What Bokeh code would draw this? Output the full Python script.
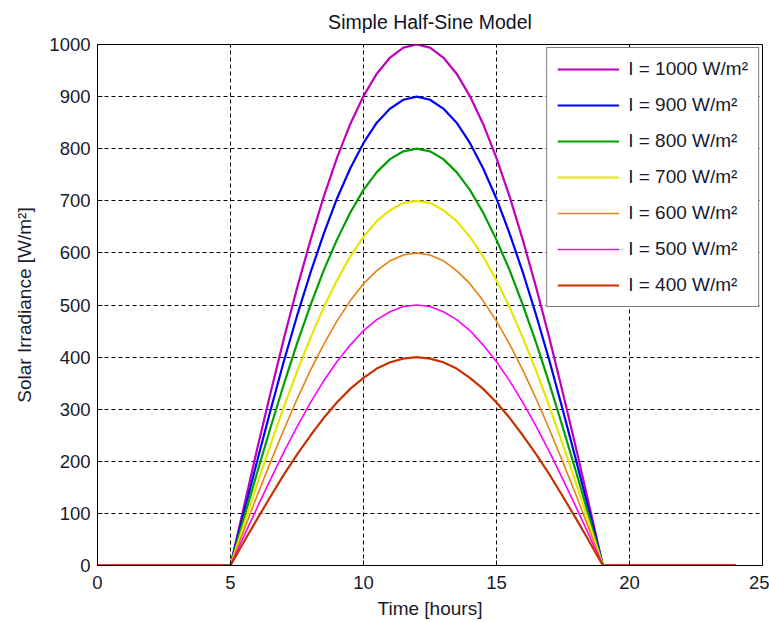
from bokeh.plotting import figure
from bokeh.models import Legend, LegendItem, Range1d, FixedTicker
from bokeh.embed import file_html
from bokeh.resources import INLINE

# time axis [hours]
time_h = [0, 5, 5.5, 6, 6.5, 7, 7.5, 8, 8.5, 9, 9.5, 10, 10.5, 11, 11.5, 12,
          12.5, 13, 13.5, 14, 14.5, 15, 15.5, 16, 16.5, 17, 17.5, 18, 18.5, 19, 24]

irr_1000 = [0, 0, 112, 223, 330, 434, 532, 623, 707, 782, 847, 901, 944, 975, 994, 1000,
            994, 975, 944, 901, 847, 782, 707, 623, 532, 434, 330, 223, 112, 0, 0]
irr_900 = [0, 0, 101, 200, 297, 391, 479, 561, 636, 704, 762, 811, 850, 877, 894, 900,
           894, 877, 850, 811, 762, 704, 636, 561, 479, 391, 297, 200, 101, 0, 0]
irr_800 = [0, 0, 90, 178, 264, 347, 426, 499, 566, 625, 677, 721, 755, 780, 795, 800,
           795, 780, 755, 721, 677, 625, 566, 499, 426, 347, 264, 178, 90, 0, 0]
irr_700 = [0, 0, 78, 156, 231, 304, 372, 436, 495, 547, 593, 631, 661, 682, 696, 700,
           696, 682, 661, 631, 593, 547, 495, 436, 372, 304, 231, 156, 78, 0, 0]
irr_600 = [0, 0, 67, 134, 198, 260, 319, 374, 424, 469, 508, 541, 566, 585, 596, 600,
           596, 585, 566, 541, 508, 469, 424, 374, 319, 260, 198, 134, 67, 0, 0]
irr_500 = [0, 0, 56, 111, 165, 217, 266, 312, 354, 391, 423, 451, 472, 487, 497, 500,
           497, 487, 472, 451, 423, 391, 354, 312, 266, 217, 165, 111, 56, 0, 0]
irr_400 = [0, 0, 45, 89, 132, 174, 213, 249, 283, 313, 339, 360, 378, 390, 397, 400,
           397, 390, 378, 360, 339, 313, 283, 249, 213, 174, 132, 89, 45, 0, 0]

series_labels = ["I = 1000 W/m²", "I = 900 W/m²", "I = 800 W/m²", "I = 700 W/m²",
                 "I = 600 W/m²", "I = 500 W/m²", "I = 400 W/m²"]
series_values = [irr_1000, irr_900, irr_800, irr_700, irr_600, irr_500, irr_400]
series_colors = ["#bf00bf", "#0000ff", "#00a000", "#e6e600", "#e8820e", "#ff00ff", "#c83200"]
series_widths = [2.2, 2.2, 2.2, 2.2, 1.6, 1.6, 2.2]

x_ticks = [0, 5, 10, 15, 20, 25]
y_ticks = [0, 100, 200, 300, 400, 500, 600, 700, 800, 900, 1000]

FONT = "Liberation Sans"

p = figure(width=769, height=622, output_backend="svg", toolbar_location=None,
           x_range=Range1d(0, 25), y_range=Range1d(0, 1000),
           min_border_left=97, min_border_right=7, min_border_top=43, min_border_bottom=57,
           title="Simple Half-Sine Model")
p.title.align = "center"
p.title.vertical_align = "top"
p.title.text_font = FONT
p.title.text_font_size = "19.5px"
p.title.text_font_style = "normal"
p.title.text_color = "#111122"
p.title.standoff = 20

p.outline_line_color = "black"
p.outline_line_width = 1
p.background_fill_color = "white"
p.border_fill_color = "white"

for ax in (p.xaxis[0], p.yaxis[0]):
    ax.major_tick_in = 5
    ax.major_tick_out = 0
    ax.minor_tick_in = 0
    ax.minor_tick_out = 0
    ax.axis_line_color = "black"
    ax.major_tick_line_color = "black"
    ax.major_label_text_font = FONT
    ax.major_label_text_font_size = "18.5px"
    ax.major_label_text_color = "#1a1a2a"
    ax.axis_label_text_font = FONT
    ax.axis_label_text_font_size = "19px"
    ax.axis_label_text_font_style = "normal"
    ax.axis_label_text_color = "#1a1a2a"

p.xaxis.ticker = FixedTicker(ticks=x_ticks)
p.yaxis.ticker = FixedTicker(ticks=y_ticks)
p.xaxis.axis_label = "Time [hours]"
p.yaxis.axis_label = "Solar Irradiance [W/m²]"
p.xaxis.major_label_standoff = 10
p.yaxis.major_label_standoff = 7
p.xaxis.axis_label_standoff = 6
p.yaxis.axis_label_standoff = 11

for g in (p.xgrid[0], p.ygrid[0]):
    g.grid_line_color = "black"
    g.grid_line_dash = "4 3"
    g.grid_line_width = 1

items = []
for lab, vals, col, w in zip(series_labels, series_values, series_colors, series_widths):
    r = p.line(time_h, vals, line_color=col, line_width=w)
    items.append(LegendItem(label=lab, renderers=[r]))

legend = Legend(items=items, location="top_right")
legend.margin = 3
legend.padding = 10
legend.spacing = 14
legend.glyph_width = 62
legend.glyph_height = 20
legend.label_height = 20
legend.label_standoff = 9
legend.label_text_font = FONT
legend.label_text_font_size = "19px"
legend.label_text_color = "#1a1a2a"
legend.border_line_color = "black"
legend.border_line_width = 1.5
legend.background_fill_color = "white"
legend.background_fill_alpha = 1
p.add_layout(legend)

open("out.html", "w").write(file_html(p, INLINE))
